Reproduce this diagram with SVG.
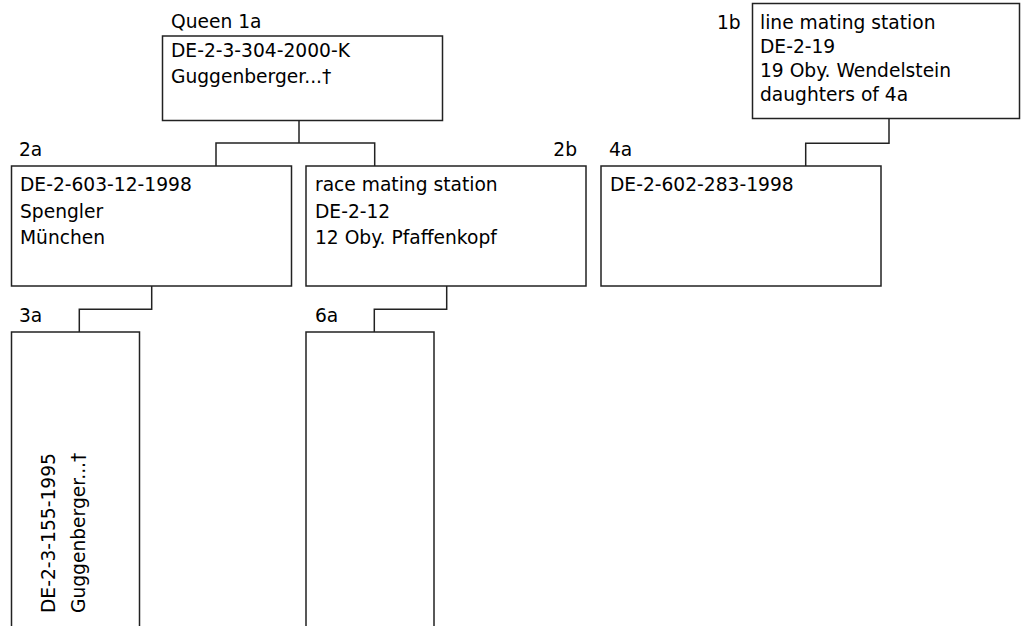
<svg xmlns="http://www.w3.org/2000/svg" width="1023" height="626" viewBox="0 0 1023 626">
<style>
.box{fill:#fff;stroke:#222;stroke-width:1.5}
.con{fill:none;stroke:#222;stroke-width:1.5}
text{font-family:"DejaVu Sans",sans-serif;font-size:18.67px;fill:#000}
.end{text-anchor:end}
</style>
<rect width="1023" height="626" fill="#fff"/>
<g id="connectors">
<path class="con" d="M299,120.5V143M216,166V143H374.7V166"/>
<path class="con" d="M151.7,286V309.3H79.3V332"/>
<path class="con" d="M446.7,286V309.3H374.3V332"/>
<path class="con" d="M889,118.5V143.3H805.7V166"/>
</g>
<g id="n1a">
<text x="171" y="27.5">Queen 1a</text>
<rect class="box" x="162.5" y="36" width="280" height="84.5"/>
<text x="171" y="57">DE-2-3-304-2000-K</text>
<text x="171" y="83">Guggenberger...†</text>
</g>
<g id="n1b">
<text x="717" y="28.5">1b</text>
<rect class="box" x="752.5" y="3.5" width="267" height="115"/>
<text x="760" y="28.5">line mating station</text>
<text x="760" y="52.5">DE-2-19</text>
<text x="760" y="76.5">19 Oby. Wendelstein</text>
<text x="760" y="100.5">daughters of 4a</text>
</g>
<g id="n2a">
<text x="19" y="155.5">2a</text>
<rect class="box" x="11.5" y="166" width="280" height="120"/>
<text x="20" y="191">DE-2-603-12-1998</text>
<text x="20" y="217.5">Spengler</text>
<text x="20" y="243.5">München</text>
</g>
<g id="n2b">
<text class="end" x="577" y="155.5">2b</text>
<rect class="box" x="306" y="166" width="280" height="120"/>
<text x="315" y="191">race mating station</text>
<text x="315" y="217.5">DE-2-12</text>
<text x="315" y="243.5">12 Oby. Pfaffenkopf</text>
</g>
<g id="n4a">
<text x="609" y="155.5">4a</text>
<rect class="box" x="601" y="166" width="280" height="120"/>
<text x="610" y="191">DE-2-602-283-1998</text>
</g>
<g id="n3a">
<text x="19" y="322">3a</text>
<rect class="box" x="11.5" y="332" width="128" height="310"/>
<text transform="translate(55,613) rotate(-90)">DE-2-3-155-1995</text>
<text transform="translate(85,613) rotate(-90)">Guggenberger...†</text>
</g>
<g id="n6a">
<text x="315" y="322">6a</text>
<rect class="box" x="306" y="332" width="128" height="310"/>
</g>
</svg>
